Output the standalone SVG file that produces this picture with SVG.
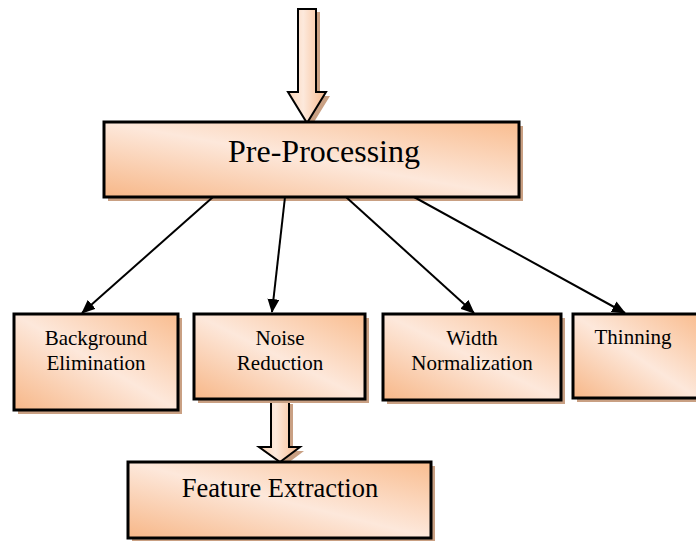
<svg xmlns="http://www.w3.org/2000/svg" width="696" height="541" viewBox="0 0 696 541">
<defs>
<linearGradient id="g" x1="0" y1="1" x2="1" y2="0">
<stop offset="0" stop-color="#f7b788"/>
<stop offset="0.5" stop-color="#fde8db"/>
<stop offset="1" stop-color="#f9bd90"/>
</linearGradient>
<linearGradient id="ga" x1="0" y1="0" x2="1" y2="0">
<stop offset="0" stop-color="#fad3b5"/>
<stop offset="0.4" stop-color="#fde9dc"/>
<stop offset="1" stop-color="#f7b98c"/>
</linearGradient>
<marker id="ah" markerWidth="14" markerHeight="12" refX="13" refY="6" orient="auto" markerUnits="userSpaceOnUse" viewBox="0 0 14 12">
<path d="M0,0 L14,6 L0,12 z" fill="#000"/>
</marker>
</defs>
<style>
.sh{fill:#c9a083}
.bx{fill:url(#g);stroke:#000;stroke-width:3}
.ar{fill:url(#ga);stroke:#000;stroke-width:2;stroke-linejoin:miter}
.t{font-family:'Liberation Serif','Times New Roman','DejaVu Serif',serif;fill:#000;text-anchor:middle}
.c{stroke:#000;stroke-width:2;fill:none;marker-end:url(#ah)}
</style>
<g id="input-arrow">
<path d="M302,12 H320 V96 H330 L311,127 L292,96 H302 Z" class="sh"/>
<path d="M298,9 H316 V92 H326 L307,123 L288,92 H298 Z" class="ar"/>
</g>
<g id="preprocessing">
<rect x="108" y="126" width="415" height="75" class="sh"/>
<rect x="104" y="122" width="415" height="75" class="bx"/>
<text x="324" y="162" class="t" font-size="32">Pre-Processing</text>
</g>
<g id="connectors">
<line x1="213" y1="197" x2="82" y2="313" class="c"/>
<line x1="285" y1="197" x2="272" y2="312" class="c"/>
<line x1="346" y1="197" x2="474" y2="313" class="c"/>
<line x1="414" y1="197" x2="625" y2="313" class="c"/>
</g>
<g id="background-elimination">
<rect x="18" y="318" width="164" height="96" class="sh"/>
<rect x="14" y="314" width="164" height="96" class="bx"/>
<text x="96" y="345" class="t" font-size="21">Background</text>
<text x="96" y="370" class="t" font-size="21">Elimination</text>
</g>
<g id="feature-arrow">
<path d="M275,404 H293 V451 H304 L284,466 L263,451 H275 Z" class="sh"/>
<path d="M271,400 H289 V447 H300 L280,462 L259,447 H271 Z" class="ar"/>
</g>
<g id="noise-reduction">
<rect x="198" y="318" width="171" height="85" class="sh"/>
<rect x="194" y="314" width="171" height="85" class="bx"/>
<text x="280" y="345" class="t" font-size="21">Noise</text>
<text x="280" y="370" class="t" font-size="21">Reduction</text>
</g>
<g id="width-normalization">
<rect x="387" y="318" width="178" height="86" class="sh"/>
<rect x="383" y="314" width="178" height="86" class="bx"/>
<text x="472" y="345" class="t" font-size="21">Width</text>
<text x="472" y="370" class="t" font-size="21">Normalization</text>
</g>
<g id="thinning">
<rect x="577" y="318" width="125" height="84" class="sh"/>
<rect x="573" y="314" width="125" height="84" class="bx"/>
<text x="633" y="344" class="t" font-size="21">Thinning</text>
</g>
<g id="feature-extraction">
<rect x="132" y="466" width="303" height="76" class="sh"/>
<rect x="128" y="462" width="303" height="76" class="bx"/>
<text x="280" y="497" class="t" font-size="26.5">Feature Extraction</text>
</g>
</svg>
